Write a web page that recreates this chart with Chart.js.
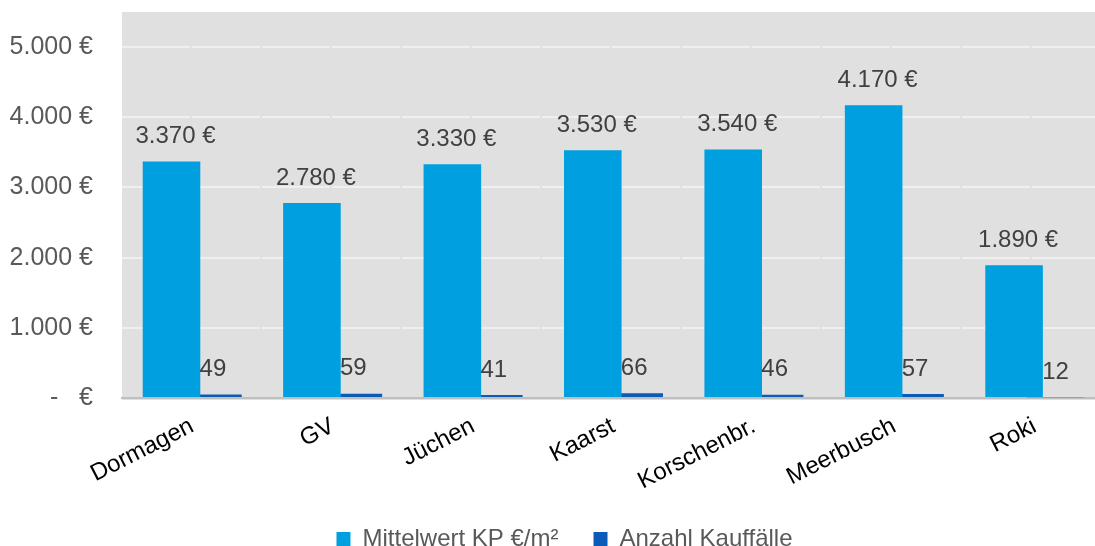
<!DOCTYPE html>
<html>
<head>
<meta charset="utf-8">
<script src="https://cdn.jsdelivr.net/npm/chart.js@4"></script>
<style>
  html, body { margin: 0; padding: 0; background: #fff; overflow: hidden; }
  #wrap { width: 1150px; height: 561px; }
</style>
</head>
<body>
<div id="wrap"><canvas id="kpChart" width="1150" height="561"></canvas></div>
<script>
const orte = ["Dormagen", "GV", "Jüchen", "Kaarst", "Korschenbr.", "Meerbusch", "Roki"];
const mittelwertKP = [3370, 2780, 3330, 3530, 3540, 4170, 1890];
const anzahlKauffaelle = [49, 59, 41, 66, 46, 57, 12];
const yTicks = [0, 1000, 2000, 3000, 4000, 5000];

const FONT = "'Liberation Sans', Arial, sans-serif";
const fmtEuro = v => v === 0 ? "-   €" : v.toLocaleString("de-DE") + " €";

// plot background + value labels
const plotDeco = {
    id: "plotDeco",
    afterLayout(chart) {
        // nudge legend a bit to the right like in the original
        if (chart.legend) {
            chart.legend.left += 12;
            chart.legend.right += 12;
        }
    },
    beforeDraw(chart) {
        const { ctx, chartArea: a } = chart;
        ctx.save();
        ctx.fillStyle = "#e0e0e0";
        ctx.fillRect(a.left, a.top, a.right - a.left, a.bottom - a.top + 2);
        ctx.restore();
    },
    afterDatasetsDraw(chart) {
        const { ctx } = chart;
        ctx.save();
        ctx.font = "24px " + FONT;
        ctx.fillStyle = "#404040";
        ctx.textAlign = "center";
        ctx.textBaseline = "middle";
        chart.data.datasets.forEach((ds, i) => {
            chart.getDatasetMeta(i).data.forEach((bar, j) => {
                const v = ds.data[j];
                const txt = i === 0 ? fmtEuro(v) : String(v);
                ctx.fillText(txt, bar.x + (i === 0 ? 4 : 0), bar.y - 25);
            });
        });
        ctx.restore();
    }
};

const ctx = document.getElementById("kpChart").getContext("2d");
new Chart(ctx, {
    type: "bar",
    data: {
        labels: orte,
        datasets: [
            {
                label: "Mittelwert KP €/m²",
                data: mittelwertKP,
                backgroundColor: "#009fe0",
                categoryPercentage: 0.59,
                barPercentage: 1.39
            },
            {
                label: "Anzahl Kauffälle",
                data: anzahlKauffaelle,
                backgroundColor: "#0a5cb8",
                categoryPercentage: 0.59,
                barPercentage: 1.39
            }
        ]
    },
    options: {
        responsive: false,
        animation: false,
        layout: { padding: { top: 12, right: 45, left: 0, bottom: 0 } },
        plugins: {
            tooltip: { enabled: false },
            legend: {
                position: "bottom",
                labels: {
                    font: { family: FONT, size: 24 },
                    color: "#595959",
                    boxWidth: 14,
                    boxHeight: 14,
                    padding: 35,
                    useBorderRadius: false
                }
            }
        },
        scales: {
            x: {
                grid: { display: false, drawTicks: false },
                border: { color: "#bfbfbf", width: 2 },
                ticks: {
                    color: "#000",
                    font: { family: FONT, size: 24 },
                    minRotation: 27,
                    maxRotation: 27,
                    padding: 14
                },
                afterFit(scale) { scale.height = 94; }
            },
            y: {
                min: 0,
                max: 5500,
                afterBuildTicks(scale) { scale.ticks = yTicks.map(v => ({ value: v })); },
                grid: {
                    color: c => c.tick.value === 0 ? "rgba(0,0,0,0)" : "#efefef",
                    lineWidth: 2,
                    drawTicks: false
                },
                border: { display: false, dash: [68, 2], dashOffset: 0 },
                ticks: {
                    color: "#595959",
                    font: { family: FONT, size: 25 },
                    padding: 29,
                    callback: v => fmtEuro(v)
                },
                afterFit(scale) {
                    scale.width = 122;
                    scale.paddingTop = 0;
                    scale.paddingBottom = 0;
                }
            }
        }
    },
    plugins: [plotDeco]
});
</script>
</body>
</html>
